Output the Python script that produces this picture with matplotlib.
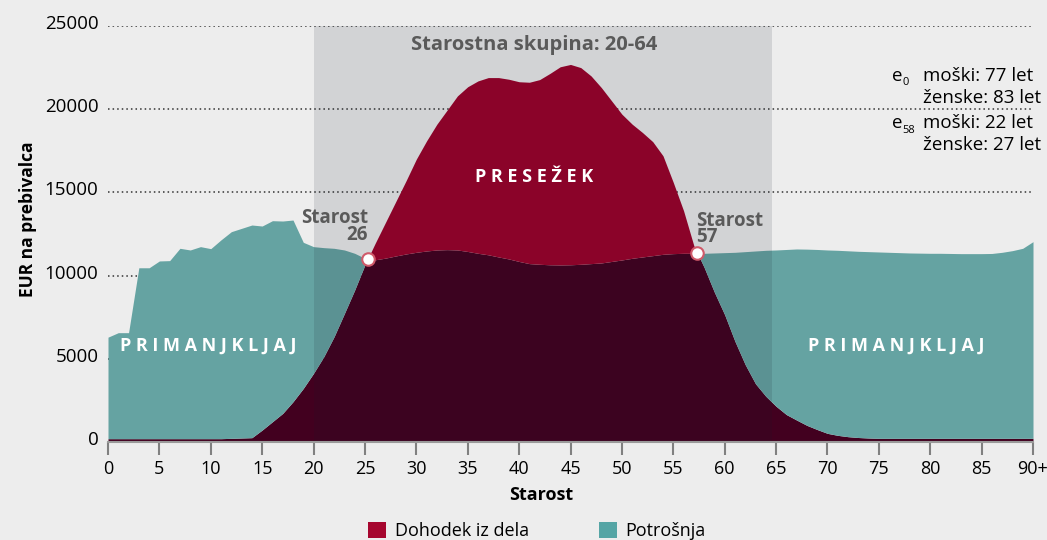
import numpy as np
import matplotlib.pyplot as plt
from matplotlib.patches import Patch
from matplotlib.transforms import ScaledTranslation

plt.rcParams['font.family'] = ['Open Sans', 'DejaVu Sans']

# starost 0..90+
ages = np.arange(0, 91)

# Dohodek iz dela (EUR na prebivalca)
income = [
    200, 200, 200, 200, 200, 200, 200, 200, 200, 200,          # 0-9
    200, 200, 220, 240, 260, 720, 1220, 1720, 2420, 3220,      # 10-19
    4130, 5130, 6330, 7720, 9130, 10650, 11950, 13200, 14450, 15700,  # 20-29
    17000, 18100, 19100, 19950, 20800, 21350, 21700, 21900, 21900, 21800,  # 30-39
    21650, 21620, 21780, 22150, 22550, 22690, 22500, 22000, 21300, 20500,  # 40-49
    19700, 19100, 18600, 18050, 17200, 15600, 13900, 11800, 10500, 9000,  # 50-59
    7650, 6050, 4650, 3500, 2750, 2150, 1650, 1320, 1000, 750,  # 60-69
    520, 400, 320, 270, 240, 220, 220, 220, 220, 220,          # 70-79
    220, 220, 220, 220, 220, 220, 220, 220, 220, 220, 220,     # 80-90+
]

# Potrošnja (EUR na prebivalca)
consumption = [
    6300, 6570, 6570, 10470, 10470, 10880, 10900, 11640, 11540, 11740,  # 0-9
    11620, 12150, 12640, 12840, 13040, 12980, 13300, 13280, 13340, 12000,  # 10-19
    11740, 11680, 11640, 11540, 11340, 11040, 10950, 11050, 11180, 11300,  # 20-29
    11400, 11480, 11540, 11560, 11540, 11450, 11340, 11250, 11120, 11000,  # 30-39
    10850, 10720, 10680, 10650, 10640, 10650, 10680, 10720, 10760, 10850,  # 40-49
    10940, 11040, 11120, 11200, 11280, 11320, 11340, 11340, 11340, 11360,  # 50-59
    11380, 11400, 11440, 11480, 11520, 11540, 11570, 11600, 11590, 11570,  # 60-69
    11540, 11520, 11490, 11460, 11440, 11420, 11400, 11380, 11360, 11350,  # 70-79
    11340, 11340, 11330, 11320, 11320, 11320, 11330, 11400, 11500, 11640, 12040,  # 80-90+
]

x_ticks = list(range(0, 95, 5))
x_labels = [str(t) for t in x_ticks[:-1]] + ['90+']
y_ticks = [0, 5000, 10000, 15000, 20000, 25000]

band = (20, 64.6)

bg = '#EDEDED'
teal = '#65A3A2'
red = '#9C0029'
dark = '#42001F'
grey_txt = '#5A5A5A'

inc = np.array(income, dtype=float)
con = np.array(consumption, dtype=float)

# fine grid only for drawing the overlap cleanly (lines stay straight between years)
xf = np.linspace(0, 90, 3601)
incf = np.interp(xf, ages, inc)
conf = np.interp(xf, ages, con)
low = np.minimum(incf, conf)

fig = plt.figure(figsize=(10.47, 5.40), dpi=100, facecolor=bg)
ax = fig.add_axes([108 / 1047, 98 / 540, 925 / 1047, 416 / 540])
ax.set_facecolor(bg)

# overlap (dark), deficit (teal), surplus (red)
ax.fill_between(xf, 0, low, color=dark, lw=0, zorder=2)
ax.fill_between(xf, low, conf, color=teal, lw=0, zorder=2)
ax.fill_between(xf, low, incf, color=red, lw=0, zorder=2)

# working-age band
ax.axvspan(*band, color='#141D2D', alpha=0.12, lw=0, zorder=3)

# crossing points
diff = inc - con
cross_x, cross_y = [], []
for i in range(len(ages) - 1):
    if np.sign(diff[i]) != np.sign(diff[i + 1]):
        f = diff[i] / (diff[i] - diff[i + 1])
        cross_x.append(ages[i] + f)
        cross_y.append(con[i] + f * (con[i + 1] - con[i]))
ax.plot(cross_x, cross_y, 'o', ms=9, mfc='white', mec='#D05A6A', mew=1.5, zorder=6)

ax.set_xlim(0, 90)
ax.set_ylim(0, 25000)
ax.set_yticks(y_ticks)
ax.yaxis.grid(True, color='#333333', lw=1.1, ls=(0, (1, 2)))
for l in ax.yaxis.get_gridlines():
    l.set_zorder(4)
ax.yaxis.get_gridlines()[0].set_visible(False)

ax.set_xticks(x_ticks)
ax.set_xticklabels(x_labels)
ax.tick_params(axis='x', length=9, width=1.5, color='#808080', pad=4, labelsize=13)
ax.tick_params(axis='y', length=0, pad=7, labelsize=13.5)
for lab in ax.get_yticklabels():
    lab.set_transform(lab.get_transform() + ScaledTranslation(0, 4 / 100, fig.dpi_scale_trans))

for s in ['top', 'right', 'left']:
    ax.spines[s].set_visible(False)
ax.spines['bottom'].set_color('#9A9A9A')
ax.spines['bottom'].set_linewidth(1.5)
ax.spines['bottom'].set_zorder(5)

# annotations
ax.text(41.5, 23850, 'Starostna skupina: 20-64', ha='center', va='center',
        fontsize=14.5, fontweight='bold', color=grey_txt, zorder=7)
ax.text(41.5, 15900, ' '.join('PRESEŽEK'), ha='center', va='center',
        fontsize=13, fontweight='bold', color='white', zorder=7)
ax.text(9.8, 5800, ' '.join('PRIMANJKLJAJ'), ha='center', va='center',
        fontsize=13, fontweight='bold', color='white', zorder=7)
ax.text(76.7, 5800, ' '.join('PRIMANJKLJAJ'), ha='center', va='center',
        fontsize=13, fontweight='bold', color='white', zorder=7)
ax.text(25.3, 11850, 'Starost\n26', ha='right', va='bottom', multialignment='right',
        fontsize=13.5, fontweight='bold', color=grey_txt, linespacing=0.78, zorder=7)
ax.text(57.2, 11700, 'Starost\n57', ha='left', va='bottom', multialignment='left',
        fontsize=13.5, fontweight='bold', color=grey_txt, linespacing=0.78, zorder=7)

e_x, t_x = 76.3, 79.3
for y0, sub, lines in [(22000, '0', ['moški: 77 let', 'ženske: 83 let']),
                       (19150, '58', ['moški: 22 let', 'ženske: 27 let'])]:
    ax.text(e_x, y0, 'e', ha='left', va='center', fontsize=13.5, zorder=7)
    ax.text(e_x + 1.0, y0 - 420, sub, ha='left', va='center', fontsize=8, zorder=7)
    ax.text(t_x, y0, lines[0], ha='left', va='center', fontsize=13.5, zorder=7)
    ax.text(t_x, y0 - 1300, lines[1], ha='left', va='center', fontsize=13.5, zorder=7)

fig.text(28 / 1047, 1 - 219 / 540, 'EUR na prebivalca', rotation=90, ha='center', va='center',
         fontsize=12.5, fontweight='bold')
fig.text(541 / 1047, 1 - 495 / 540, 'Starost', ha='center', va='center',
         fontsize=13, fontweight='bold')

handles = [Patch(facecolor='#A6062F', lw=0, label='Dohodek iz dela'),
           Patch(facecolor='#55A5A5', lw=0, label='Potrošnja')]
fig.legend(handles=handles, loc='center', bbox_to_anchor=(537 / 1047, 1 - 531 / 540), ncol=2,
           frameon=False, fontsize=13, handlelength=1.0, handleheight=1.0,
           handletextpad=0.45, columnspacing=3.9, borderaxespad=0)

fig.savefig('out.png', dpi=100, facecolor=bg)
